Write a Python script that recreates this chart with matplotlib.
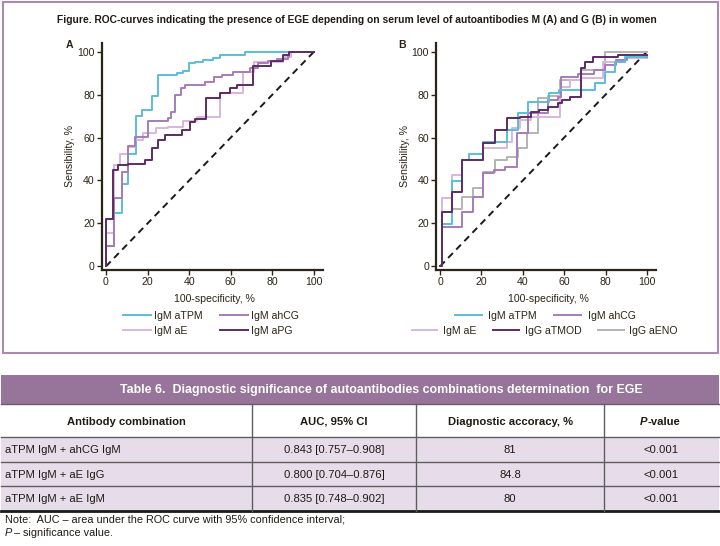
import matplotlib
matplotlib.use("Agg")
import matplotlib.pyplot as plt
from matplotlib.patches import Rectangle

plt.rcParams['font.family'] = ['Liberation Sans', 'DejaVu Sans']

# ---------------- data ----------------
ticks = [0, 20, 40, 60, 80, 100]

# Panel A (IgM) ROC curves, step points (100-specificity %, sensitivity %)
a_tpm_x = [0, 3.8, 7.5, 10.4, 14.4, 17.2, 22, 25.2, 34, 36.9, 40, 42.6, 46.8, 51.4, 54.6, 66.8, 100]
a_tpm_y = [0, 9.5, 25, 38.6, 52.3, 70, 72.8, 79.5, 89.1, 90.2, 91, 94.6, 95.4, 96.1, 96.9, 98.4, 100]

a_hcg_x = [0, 3.8, 7.5, 10.7, 13.9, 20, 30, 31.5, 33.2, 36, 38, 47.6, 52, 55.6, 61.2, 69.2, 73.2, 78, 82, 87.6, 88, 100]
a_hcg_y = [0, 9.5, 31.7, 44, 56, 60.4, 67.8, 69.3, 72, 79.8, 83, 84.5, 86, 88, 89, 90.5, 92.3, 94.8, 95.5, 96.4, 97.5, 100]

a_e_x = [0, 3.8, 6.7, 10.7, 14, 18, 24, 30, 37, 43.6, 55, 66, 71, 85.2, 89, 100]
a_e_y = [0, 15.4, 47.2, 52.3, 55.7, 58.8, 62, 64.3, 65, 67.6, 69.7, 80.6, 90.7, 95.3, 97.5, 100]

a_pg_x = [0, 3.5, 6, 10.7, 18.6, 22, 25.2, 28.4, 36.4, 40.4, 43, 48, 54.8, 59.6, 62.8, 70.5, 79.3, 85.3, 88, 100]
a_pg_y = [0, 22, 44.9, 47.2, 47.9, 49.5, 55, 58.9, 61.1, 63.5, 67.4, 68.5, 78.3, 80.9, 82.9, 84.5, 93.5, 95.9, 98.5, 100]

# Panel B (IgM / IgG) ROC curves
b_tpm_x = [0, 0.8, 5.6, 10.4, 14, 21, 32.2, 37.8, 42.6, 52.7, 57.6, 67.5, 74.7, 79.6, 84.4, 89.2, 99, 100]
b_tpm_y = [0, 0, 19.7, 39.7, 49.5, 52.3, 58, 63.5, 71.3, 76.7, 80.6, 82.1, 82.1, 85.3, 90.7, 95.3, 97.5, 98]

b_hcg_x = [0, 0.8, 10.4, 16, 20.9, 26.3, 31.4, 37, 42.6, 52, 57, 58.7, 66.5, 74.3, 79.6, 85, 90.6, 97, 100]
b_hcg_y = [0, 0, 18.2, 25.4, 32.4, 43.3, 44.9, 46.5, 62, 71.3, 77.5, 79, 88, 89.5, 91.5, 93.8, 96.1, 97.7, 97.7]

b_e_x = [0, 0.8, 5.6, 10.4, 20.9, 32.2, 35, 38.6, 44.2, 57.9, 62.7, 68.3, 78.8, 89.3, 95.7, 100]
b_e_y = [0, 0, 31.7, 42.5, 49.5, 55, 58, 64.3, 68.2, 69.7, 83.7, 86.8, 87.6, 95.3, 96.9, 97.2]

b_tmod_x = [0, 0.8, 5.6, 10.4, 20.9, 26.5, 32.2, 38.6, 44.2, 48, 52, 57, 59, 62.7, 68.3, 70, 74, 86, 100]
b_tmod_y = [0, 0, 25.4, 34.8, 49.5, 57.6, 63.5, 69, 69.8, 72, 73, 74.4, 76, 77.5, 79, 92.3, 95, 97.7, 98.5]

b_eno_x = [0, 0.8, 5.6, 10.4, 16, 20.9, 26.5, 32.2, 37.8, 41.8, 47.4, 52.4, 57.9, 68.3, 79.6, 100]
b_eno_y = [0, 0, 25.4, 26.5, 32.4, 36.3, 44, 49.5, 51, 55, 62, 78.3, 79.5, 86.8, 91.5, 100]

labels_a = ["IgM aTPM", "IgM ahCG", "IgM aE", "IgM aPG"]
labels_b = ["IgM aTPM", "IgM ahCG", "IgM aE", "IgG aTMOD", "IgG aENO"]

tbl_title = "Table 6.  Diagnostic significance of autoantibodies combinations determination  for EGE"
tbl_cols = ["Antibody combination", "AUC, 95% CI", "Diagnostic accoracy, %", "-value"]
tbl_comb = ["aTPM IgM + ahCG IgM", "aTPM IgM + aE IgG", "aTPM IgM + aE IgM"]
tbl_auc = ["0.843 [0.757–0.908]", "0.800 [0.704–0.876]", "0.835 [0.748–0.902]"]
tbl_acc = ["81", "84.8", "80"]
tbl_p = ["<0.001", "<0.001", "<0.001"]

# ---------------- style ----------------
C_TPM = '#5bbdd8'
C_HCG = '#a67bbb'
C_E = '#d9b5de'
C_DARK = '#5c2c63'
C_ENO = '#b3b3b3'
INK = '#2b2418'
TXT = '#1e1a14'
BORDER = '#a88bae'
HEAD = '#977499'
ROWBG = '#e7ddea'

W, H = 720, 546
fig = plt.figure(figsize=(7.2, 5.46), dpi=100)


def fx(px):
    return px / W


def fy(py):
    return 1 - py / H


fig.patches.append(Rectangle((fx(2.5), fy(352.5)), fx(717.5) - fx(2.5), fy(2.5) - fy(352.5),
                             transform=fig.transFigure, fill=False, ec=BORDER, lw=1.5))
fig.text(fx(357), fy(20), "Figure. ROC-curves indicating the presence of EGE depending on serum level of autoantibodies M (A) and G (B) in women",
         ha='center', va='center', fontsize=7.4, fontweight='bold', color=TXT)

TICK_FS = 7.6
LAB_FS = 7.6


def style(ax, ylab_x):
    for s in ['top', 'right']:
        ax.spines[s].set_visible(False)
    for s in ['left', 'bottom']:
        ax.spines[s].set_color(INK)
        ax.spines[s].set_linewidth(1.6)
    ax.set_xlim(-2, 104.2)
    ax.set_ylim(-1.7, 104.2)
    ax.set_xticks(ticks)
    ax.set_yticks(ticks)
    ax.tick_params(direction='out', length=3.5, width=1, color=INK, labelsize=TICK_FS,
                   labelcolor=INK, pad=1.5)
    ax.plot([0, 100], [0, 100], color='#1a1a1a', lw=1.4, dashes=(3.5, 2.5), zorder=1)
    ax.set_xlabel("100-specificity, %", fontsize=LAB_FS, color=INK)
    ax.set_ylabel("Sensibility, %", fontsize=LAB_FS, color=INK)
    ax.xaxis.set_label_coords(0.51, -0.105)
    ax.yaxis.set_label_coords(ylab_x, 0.5)
    ax.patch.set_alpha(0)


lw = 1.4
# Panel A
axA = fig.add_axes([fx(101.8), fy(270), fx(322.7) - fx(101.8), fy(42.7) - fy(270)])
style(axA, -0.121)
lA_tpm, = axA.plot(a_tpm_x, a_tpm_y, drawstyle='steps-pre', color=C_TPM, lw=lw)
lA_e, = axA.plot(a_e_x, a_e_y, drawstyle='steps-pre', color=C_E, lw=lw)
lA_hcg, = axA.plot(a_hcg_x, a_hcg_y, drawstyle='steps-pre', color=C_HCG, lw=lw)
lA_pg, = axA.plot(a_pg_x, a_pg_y, drawstyle='steps-pre', color=C_DARK, lw=lw)
fig.text(fx(70), fy(45), "A", fontsize=7.6, fontweight='bold', ha='center', va='center', color=INK)

legA = axA.legend([lA_tpm, lA_e, lA_hcg, lA_pg], [labels_a[0], labels_a[2], labels_a[1], labels_a[3]],
                  ncol=2, loc='center', bbox_to_anchor=(fx(211), fy(323.5)), bbox_transform=fig.transFigure,
                  frameon=False, fontsize=LAB_FS, handlelength=2.7, handletextpad=0.3, columnspacing=1.6,
                  labelspacing=0.45, borderpad=0)
for t in legA.get_texts():
    t.set_color(INK)

# Panel B
axB = fig.add_axes([fx(435.9), fy(270), fx(655.6) - fx(435.9), fy(42.7) - fy(270)])
style(axB, -0.118)
lB_eno, = axB.plot(b_eno_x, b_eno_y, drawstyle='steps-pre', color=C_ENO, lw=lw)
lB_e, = axB.plot(b_e_x, b_e_y, drawstyle='steps-pre', color=C_E, lw=lw)
lB_hcg, = axB.plot(b_hcg_x, b_hcg_y, drawstyle='steps-pre', color=C_HCG, lw=lw)
lB_tpm, = axB.plot(b_tpm_x, b_tpm_y, drawstyle='steps-pre', color=C_TPM, lw=lw)
lB_tmod, = axB.plot(b_tmod_x, b_tmod_y, drawstyle='steps-pre', color=C_DARK, lw=lw)
fig.text(fx(402), fy(45), "B", fontsize=7.6, fontweight='bold', ha='center', va='center', color=INK)

legB1 = axB.legend([lB_tpm, lB_hcg], labels_b[:2], ncol=2, loc='center',
                   bbox_to_anchor=(fx(545), fy(316)), bbox_transform=fig.transFigure,
                   frameon=False, fontsize=LAB_FS, handlelength=2.6, handletextpad=0.6, columnspacing=1.6,
                   borderpad=0)
axB.add_artist(legB1)
legB2 = axB.legend([lB_e, lB_tmod, lB_eno], labels_b[2:], ncol=3, loc='center',
                   bbox_to_anchor=(fx(545), fy(331)), bbox_transform=fig.transFigure,
                   frameon=False, fontsize=LAB_FS, handlelength=2.4, handletextpad=0.55, columnspacing=1.6,
                   borderpad=0)
for lg in (legB1, legB2):
    for t in lg.get_texts():
        t.set_color(INK)

# ---------------- table ----------------
tab = fig.add_axes([0, 0, 1, 1])
tab.set_xlim(0, W)
tab.set_ylim(H, 0)
tab.axis('off')

x0, x1 = 1, 719
col_x = [x0, 251.6, 416.4, 603.8, x1]
y_head_top, y_head_bot = 375, 403.5
y_colhdr_bot = 437
row_edges = [437, 461.5, 486, 511]
TFS = 8.1

tab.add_patch(Rectangle((x0, y_head_top), x1 - x0, y_head_bot - y_head_top, fc=HEAD, ec='none'))
tab.text(381, 393.5, tbl_title, ha='center', va='baseline', color='white',
         fontsize=8.9, fontweight='bold')
tab.plot([x0, x1], [y_head_bot, y_head_bot], color='#6e5a70', lw=1)

for i in range(3):
    tab.add_patch(Rectangle((x0, row_edges[i]), x1 - x0, row_edges[i + 1] - row_edges[i], fc=ROWBG, ec='none'))
for yy in row_edges[:-1]:
    tab.plot([x0, x1], [yy, yy], color='#5e5e5e', lw=1)
tab.plot([x0, x1], [row_edges[-1], row_edges[-1]], color='#1a1a1a', lw=2)
for xx in col_x[1:-1]:
    tab.plot([xx, xx], [y_head_bot, row_edges[-1]], color='#5e5e5e', lw=1)

ych = 425
centers = [(col_x[i] + col_x[i + 1]) / 2 for i in range(4)]
for i in range(3):
    tab.text(centers[i], ych, tbl_cols[i], ha='center', va='baseline', fontsize=TFS, fontweight='bold',
             color=TXT)
tab.text(647, ych, "P", ha='right', va='baseline', fontsize=TFS, fontweight='bold', style='italic',
         color=TXT)
tab.text(647, ych, tbl_cols[3], ha='left', va='baseline', fontsize=TFS, fontweight='bold',
         color=TXT)

for i in range(3):
    yb = (row_edges[i] + row_edges[i + 1]) / 2 + 4
    tab.text(5, yb, tbl_comb[i], ha='left', va='baseline', fontsize=TFS, color=TXT)
    tab.text(centers[1], yb, tbl_auc[i], ha='center', va='baseline', fontsize=TFS, color=TXT)
    tab.text(centers[2], yb, tbl_acc[i], ha='center', va='baseline', fontsize=TFS, color=TXT)
    tab.text(centers[3], yb, tbl_p[i], ha='center', va='baseline', fontsize=TFS, color=TXT)

tab.text(5, 523, "Note:  AUC – area under the ROC curve with 95% confidence interval;", ha='left', va='baseline',
         fontsize=7.8, color=TXT)
tab.text(5, 535.5, "P", ha='left', va='baseline', fontsize=7.8, style='italic', color=TXT)
tab.text(13.5, 535.5, "– significance value.", ha='left', va='baseline', fontsize=7.8, color=TXT)

fig.savefig("out.png", dpi=100)
